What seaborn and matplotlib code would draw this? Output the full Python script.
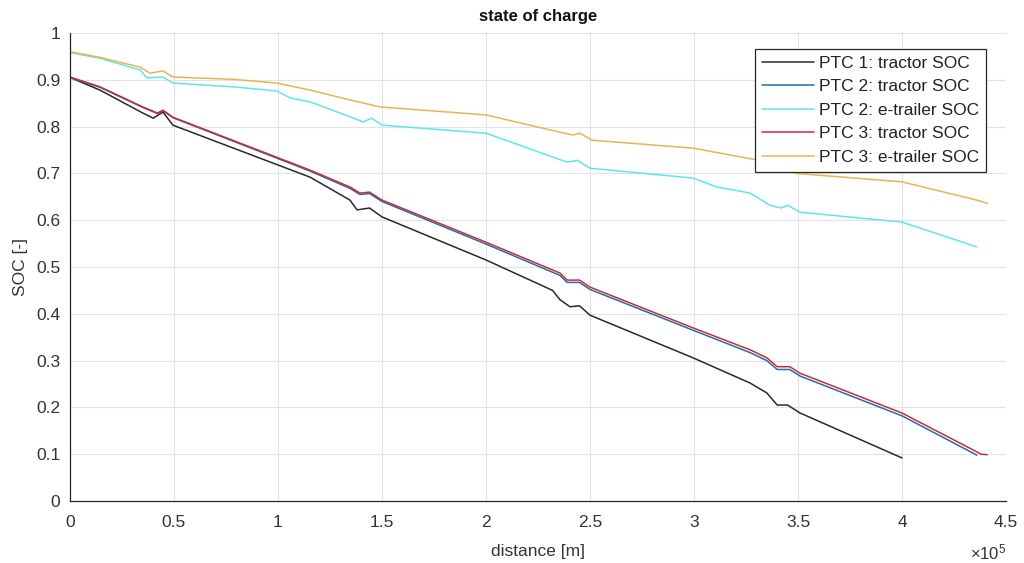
import numpy as np
import pandas as pd
import matplotlib
matplotlib.use("Agg")
import matplotlib.pyplot as plt
from matplotlib.ticker import FuncFormatter, MultipleLocator
import seaborn as sns

# distance in units of 1e5 m, SOC as fraction
ptc1_tractor_x = [0, 0.144, 0.35, 0.40, 0.447, 0.495, 1.154, 1.346, 1.38, 1.44, 1.5,
                  2.0, 2.32, 2.356, 2.404, 2.45, 2.5, 2.995, 3.27, 3.30, 3.35, 3.40,
                  3.45, 3.51, 4.0]
ptc1_tractor_y = [0.905, 0.878, 0.829, 0.818, 0.831, 0.803, 0.692, 0.643, 0.622, 0.626,
                  0.607, 0.515, 0.450, 0.430, 0.415, 0.417, 0.397, 0.306, 0.252, 0.244,
                  0.231, 0.205, 0.205, 0.188, 0.092]

ptc2_tractor_x = [0, 0.144, 0.35, 0.42, 0.447, 0.495, 1.154, 1.346, 1.394, 1.44, 1.5,
                  2.0, 2.356, 2.39, 2.45, 2.5, 2.995, 3.27, 3.35, 3.40, 3.46, 3.51,
                  4.0, 4.36]
ptc2_tractor_y = [0.905, 0.884, 0.841, 0.828, 0.834, 0.819, 0.705, 0.668, 0.655, 0.657,
                  0.640, 0.549, 0.482, 0.467, 0.467, 0.452, 0.365, 0.317, 0.300, 0.281,
                  0.281, 0.267, 0.182, 0.098]

ptc2_trailer_x = [0, 0.144, 0.337, 0.37, 0.447, 0.495, 0.784, 0.995, 1.06, 1.154, 1.346,
                  1.41, 1.45, 1.5, 2.0, 2.39, 2.44, 2.5, 2.995, 3.11, 3.27, 3.365,
                  3.42, 3.45, 3.51, 4.0, 4.36]
ptc2_trailer_y = [0.958, 0.946, 0.921, 0.904, 0.906, 0.893, 0.885, 0.876, 0.861, 0.853,
                  0.821, 0.810, 0.818, 0.803, 0.786, 0.724, 0.728, 0.711, 0.690, 0.671,
                  0.658, 0.632, 0.626, 0.632, 0.617, 0.596, 0.543]

ptc3_tractor_x = [0, 0.144, 0.35, 0.42, 0.447, 0.495, 1.154, 1.346, 1.394, 1.44, 1.5,
                  2.0, 2.356, 2.39, 2.45, 2.5, 2.995, 3.27, 3.35, 3.40, 3.46, 3.51,
                  4.0, 4.36, 4.38, 4.41]
ptc3_tractor_y = [0.906, 0.885, 0.842, 0.829, 0.835, 0.820, 0.707, 0.671, 0.658, 0.660,
                  0.643, 0.553, 0.487, 0.472, 0.472, 0.457, 0.370, 0.323, 0.306, 0.287,
                  0.287, 0.273, 0.188, 0.105, 0.100, 0.099]

ptc3_trailer_x = [0, 0.144, 0.337, 0.385, 0.447, 0.495, 0.784, 0.995, 1.154, 1.346,
                  1.49, 2.0, 2.356, 2.42, 2.45, 2.51, 2.995, 3.30, 3.49, 4.0, 4.1,
                  4.36, 4.41]
ptc3_trailer_y = [0.960, 0.948, 0.927, 0.914, 0.919, 0.906, 0.901, 0.893, 0.878, 0.857,
                  0.842, 0.825, 0.788, 0.782, 0.786, 0.771, 0.754, 0.729, 0.700, 0.682,
                  0.671, 0.643, 0.636]

series_names = ["PTC 1: tractor SOC", "PTC 2: tractor SOC", "PTC 2: e-trailer SOC",
                "PTC 3: tractor SOC", "PTC 3: e-trailer SOC"]
series_x = [ptc1_tractor_x, ptc2_tractor_x, ptc2_trailer_x, ptc3_tractor_x, ptc3_trailer_x]
series_y = [ptc1_tractor_y, ptc2_tractor_y, ptc2_trailer_y, ptc3_tractor_y, ptc3_trailer_y]
colors = ["#2a2a2a", "#1f6fa8", "#5ee6ec", "#cc2a3c", "#e6b650"]

frames = []
for name, xs, ys in zip(series_names, series_x, series_y):
    frames.append(pd.DataFrame({"distance": np.array(xs) * 1e5, "SOC": ys, "series": name}))
df = pd.concat(frames, ignore_index=True)

sns.set_style("white")
plt.rcParams["font.family"] = ["Liberation Sans", "DejaVu Sans"]
plt.rcParams["mathtext.fontset"] = "custom"
plt.rcParams["mathtext.rm"] = "Liberation Sans"

fig = plt.figure(figsize=(10.24, 5.63), dpi=100)
ax = fig.add_axes([70 / 1024, 62 / 563, 936 / 1024, 468 / 563])

sns.lineplot(data=df, x="distance", y="SOC", hue="series", hue_order=series_names,
             palette=dict(zip(series_names, colors)), estimator=None, sort=False,
             linewidth=1.1, ax=ax)
for line in ax.get_lines():
    line.set_solid_joinstyle("round")

ax.set_xlim(0, 4.5e5)
ax.set_ylim(0, 1)
ax.xaxis.set_major_locator(MultipleLocator(0.5e5))
ax.yaxis.set_major_locator(MultipleLocator(0.1))
ax.xaxis.set_major_formatter(FuncFormatter(lambda v, _: f"{v / 1e5:g}"))
ax.yaxis.set_major_formatter(FuncFormatter(lambda v, _: f"{v:g}"))

ax.grid(True, color="#e3e3e3", linewidth=0.8)
ax.set_axisbelow(True)
for side in ("top", "right"):
    ax.spines[side].set_visible(False)
for side in ("left", "bottom"):
    ax.spines[side].set_color("#262626")
    ax.spines[side].set_linewidth(0.9)
ax.tick_params(direction="in", length=5, width=0.9, color="#262626",
               labelsize=12.5, labelcolor="#333333")
ax.tick_params(axis="x", pad=10)
ax.tick_params(axis="y", pad=7)

ax.set_title("state of charge", fontsize=12, fontweight="bold", color="#111111", pad=9)
ax.set_xlabel("distance [m]", fontsize=12.5, color="#333333", labelpad=10)
ax.set_ylabel("SOC [-]", fontsize=12.5, color="#333333", labelpad=6)
ax.text(1.0, -0.088, r"$\times\mathregular{10^{5}}$", transform=ax.transAxes,
        ha="right", va="top", fontsize=12, color="#333333")

leg = ax.legend(loc="upper right", bbox_to_anchor=(0.9786, 0.966), fontsize=12.5,
                frameon=True, fancybox=False, edgecolor="#262626", framealpha=1,
                handlelength=3.0, handletextpad=0.3, borderpad=0.4, labelspacing=0.48,
                borderaxespad=0)
leg.get_frame().set_linewidth(0.9)
for t in leg.get_texts():
    t.set_color("#222222")

fig.savefig("out.png", dpi=100)
